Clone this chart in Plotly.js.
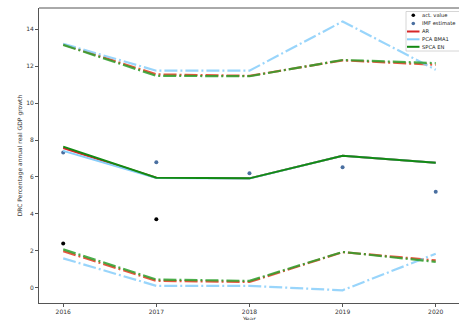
<!DOCTYPE html>
<html><head><meta charset="utf-8">
<script src="https://cdn.plot.ly/plotly-3.0.1.min.js"></script>
<style>html,body{margin:0;padding:0;background:#fff}#chart{width:459px;height:320px}</style>
</head><body><div id="chart"></div>
<script>
const years = [2016, 2017, 2018, 2019, 2020];
const actYears = [2016, 2017];
const actValue = [2.39, 3.70];
const imfEstimate = [7.32, 6.79, 6.20, 6.52, 5.20];

const arMid = [7.57, 5.96, 5.92, 7.14, 6.77];
const arUp = [13.18, 11.56, 11.48, 12.32, 12.08];
const arLow = [1.97, 0.36, 0.30, 1.92, 1.47];

const pcaMid = [7.41, 5.94, 5.91, 7.14, 6.77];
const pcaUp = [13.22, 11.76, 11.76, 14.43, 11.81];
const pcaLow = [1.58, 0.09, 0.09, -0.15, 1.83];

const spcaMid = [7.64, 5.96, 5.92, 7.14, 6.77];
const spcaUp = [13.16, 11.48, 11.46, 12.34, 12.17];
const spcaLow = [2.07, 0.43, 0.36, 1.93, 1.39];

const legendNames = ['act. value', 'IMF estimate', 'AR', 'PCA BMA1', 'SPCA EN'];

const cAR = '#d62728', cPCA = '#87cefa', cSPCA = '#138a13', cIMF = '#4a6fa0';
const dd = '13px,3px,2px,3px';

function band(x, y, color, name) {
  return {x: x, y: y, mode: 'lines', name: name, showlegend: false,
    line: {color: color, width: 2.2, dash: dd}, opacity: 0.85, hoverinfo: 'skip'};
}

const data = [
  {x: actYears, y: actValue, mode: 'markers', name: legendNames[0],
    marker: {color: 'black', size: 4}},
  {x: years, y: imfEstimate, mode: 'markers', name: legendNames[1],
    marker: {color: cIMF, size: 4}},
  {x: years, y: arMid, mode: 'lines', name: legendNames[2], line: {color: cAR, width: 2}},
  band(years, arUp, '#e03a1e', 'AR up'), band(years, arLow, '#e03a1e', 'AR low'),
  {x: years, y: pcaMid, mode: 'lines', name: legendNames[3], line: {color: cPCA, width: 2}},
  band(years, pcaUp, cPCA, 'PCA up'), band(years, pcaLow, cPCA, 'PCA low'),
  {x: years, y: spcaMid, mode: 'lines', name: legendNames[4], line: {color: cSPCA, width: 2}},
  band(years, spcaUp, '#2ca02c', 'SPCA up'), band(years, spcaLow, '#2ca02c', 'SPCA low')
];

// plot area in pixels: x 39..459, y 8..303
const PL = 39, PW = 420, PT = 8, PH = 295;
const px = x => (x - PL) / PW;
const py = y => (PT + PH - y) / PH;

const shapes = [
  {type: 'line', xref: 'paper', yref: 'paper', x0: 0, x1: 1, y0: 1, y1: 1,
    line: {color: '#555', width: 1}},
  {type: 'rect', xref: 'paper', yref: 'paper', x0: px(406), x1: px(466), y0: py(11.5), y1: py(51),
    line: {color: '#cccccc', width: 0.8}, fillcolor: 'rgba(255,255,255,0.9)', layer: 'above'}
];
const annotations = [
  {xref: 'paper', yref: 'paper', x: 0.5, y: 0, yanchor: 'top', yshift: -10, showarrow: false,
    text: 'Year', font: {size: 6, color: '#333'}}
];
const rowY = [15.3, 23.5, 31.5, 39.3, 46.8];
const legendMarks = [
  {kind: 'dot', color: 'black'}, {kind: 'dot', color: cIMF},
  {kind: 'line', color: cAR}, {kind: 'line', color: cPCA}, {kind: 'line', color: cSPCA}
];
legendMarks.forEach((m, i) => {
  const yy = py(rowY[i]);
  if (m.kind === 'dot') {
    shapes.push({type: 'circle', xref: 'paper', yref: 'paper', xsizemode: 'pixel', ysizemode: 'pixel',
      xanchor: px(413.3), yanchor: yy, x0: -1.8, x1: 1.8, y0: -1.8, y1: 1.8,
      fillcolor: m.color, line: {width: 0}, layer: 'above'});
  } else {
    shapes.push({type: 'line', xref: 'paper', yref: 'paper', x0: px(407), x1: px(419.5), y0: yy, y1: yy,
      line: {color: m.color, width: 2}, layer: 'above'});
  }
  annotations.push({xref: 'paper', yref: 'paper', x: px(421), y: yy, xanchor: 'left', yanchor: 'middle',
    showarrow: false, text: legendNames[i], font: {size: 5.2, color: '#222'}, borderpad: 0});
});

const layout = {
  width: 459, height: 320,
  margin: {l: 39, r: 0, t: 8, b: 17},
  paper_bgcolor: '#fff', plot_bgcolor: '#fff',
  font: {family: 'DejaVu Sans', size: 6, color: '#333'},
  showlegend: false,
  xaxis: {range: [2015.74, 2020.25], tickvals: years, ticktext: years.map(String),
    showgrid: false, zeroline: false, showline: true, linecolor: '#555', linewidth: 1,
    ticks: 'outside', ticklen: 3, tickcolor: '#555',
    tickfont: {size: 6, color: '#333'}},
  yaxis: {range: [-0.84, 15.16], tickvals: [0, 2, 4, 6, 8, 10, 12, 14],
    showgrid: false, zeroline: false, showline: true, linecolor: '#555', linewidth: 1,
    ticks: 'outside', ticklen: 3, tickcolor: '#555',
    tickfont: {size: 6, color: '#333'},
    title: {text: 'DRC Percentage annual real GDP growth', font: {size: 6, color: '#333'}, standoff: 3}},
  shapes: shapes,
  annotations: annotations
};

Plotly.newPlot('chart', data, layout, {displayModeBar: false, staticPlot: true});
</script></body></html>
